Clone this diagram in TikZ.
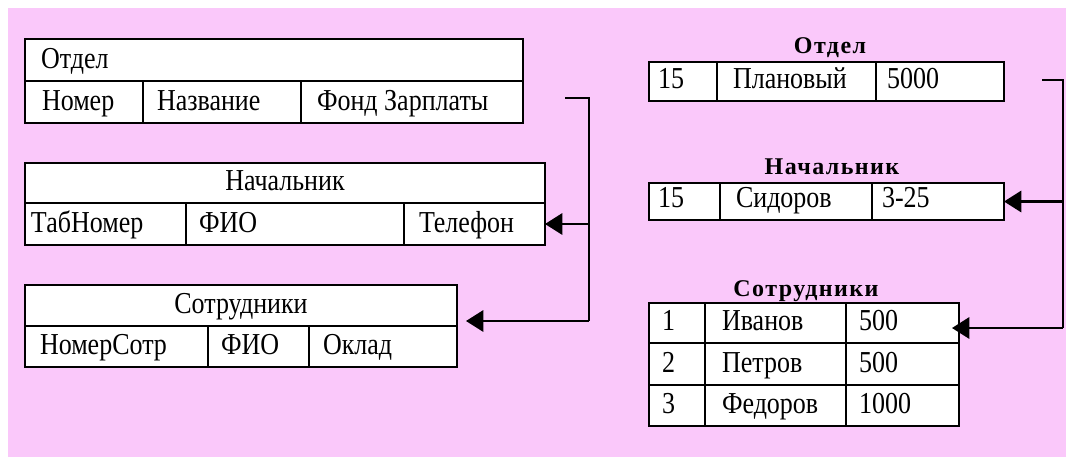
\documentclass[tikz,border=0pt]{standalone}
\usepackage{fontspec}
\setmainfont{Liberation Serif}
\newfontfamily\titlefont{Liberation Serif}[LetterSpace=6]
\usetikzlibrary{arrows.meta}
\definecolor{bgpink}{RGB}{250,200,250}
\newcommand\sq[1]{\scalebox{1}[1.17]{#1}}
\tikzset{
  cellbox/.style={draw=black, fill=white, line width=1.7pt, inner sep=0pt, outer sep=0pt},
  celltext/.style={inner sep=0pt, outer sep=0pt, font=\fontsize{19.5}{20}\selectfont},
  ttl/.style={inner sep=0pt, outer sep=0pt, font=\titlefont\bfseries\fontsize{18}{20}\selectfont},
  conn/.style={draw=black, line width=1.7pt},
  arr/.style={conn, -{Triangle[length=13pt,width=16pt]}},
}
% left-aligned cell: name, x1, y1, x2, y2, text x, text
\newcommand\tcl[7]{%
  \node[cellbox, minimum width={(#4-#2)*0.75pt}, minimum height={(#5-#3)*0.75pt}, anchor=north west] (#1) at (#2,#3) {};
  \node[celltext, anchor=base west] (#1-t) at (#6,#5-12.5) {\sq{#7}};
}
% centered cell: name, x1, y1, x2, y2, text
\newcommand\tcc[6]{%
  \node[cellbox, minimum width={(#4-#2)*0.75pt}, minimum height={(#5-#3)*0.75pt}, anchor=north west] (#1) at (#2,#3) {};
  \node[celltext, anchor=base] (#1-t) at ({(#2+#4)/2},#5-12.5) {\sq{#6}};
}
\begin{document}
\begin{tikzpicture}[x=0.75pt, y=-0.75pt]
\useasboundingbox (0,0) rectangle (1066,457);
\fill[bgpink] (8,8) rectangle (1066,457);

% ---- left: schema ----
\tcl{lo-h}{25}{39}{523}{81}{41}{Отдел}
\tcl{lo-1}{25}{81}{143}{123}{42}{Номер}
\tcl{lo-2}{143}{81}{301}{123}{157}{Название}
\tcl{lo-3}{301}{81}{523}{123}{317}{Фонд Зарплаты}

\tcc{ln-h}{25}{163}{545}{203}{Начальник}
\tcl{ln-1}{25}{203}{186}{245}{31}{ТабНомер}
\tcl{ln-2}{186}{203}{404}{245}{199}{ФИО}
\tcl{ln-3}{404}{203}{545}{245}{419}{Телефон}

\tcc{ls-h}{25}{285}{457}{326}{Сотрудники}
\tcl{ls-1}{25}{326}{208}{367}{40}{НомерСотр}
\tcl{ls-2}{208}{326}{309}{367}{221}{ФИО}
\tcl{ls-3}{309}{326}{457}{367}{323}{Оклад}

% ---- right: data ----
\node[ttl, anchor=base] (ro-t) at (830,53) {Отдел};
\tcl{ro-1}{649}{62}{717}{101}{658}{15}
\tcl{ro-2}{717}{62}{876}{101}{733}{Плановый}
\tcl{ro-3}{876}{62}{1004}{101}{887}{5000}

\node[ttl, anchor=base] (rn-t) at (832,174) {Начальник};
\tcl{rn-1}{649}{183}{720}{220}{658}{15}
\tcl{rn-2}{720}{183}{872}{220}{736}{Сидоров}
\tcl{rn-3}{872}{183}{1004}{220}{882}{3-25}

\node[ttl, anchor=base] (rs-t) at (806,296) {Сотрудники};
\tcl{rs-11}{649}{303}{705}{343}{662}{1}
\tcl{rs-12}{705}{303}{846}{343}{722}{Иванов}
\tcl{rs-13}{846}{303}{959}{343}{859}{500}
\tcl{rs-21}{649}{343}{705}{385}{662}{2}
\tcl{rs-22}{705}{343}{846}{385}{722}{Петров}
\tcl{rs-23}{846}{343}{959}{385}{859}{500}
\tcl{rs-31}{649}{385}{705}{426}{662}{3}
\tcl{rs-32}{705}{385}{846}{426}{722}{Федоров}
\tcl{rs-33}{846}{385}{959}{426}{859}{1000}

% ---- connectors ----
\coordinate (ls0) at (565,98);
\coordinate (lbus) at (589,98);
\coordinate (lend) at (589,321);
\coordinate (ltip) at (466,321);
\draw[conn] (ls0) -- (lbus) -- (lend);
\draw[arr] (lbus |- ln-3.east) -- (ln-3.east);
\draw[arr] (lend) -- (ltip);

\coordinate (rs0) at (1042,80);
\coordinate (rbus) at (1063,80);
\coordinate (rend) at (1063,328);
\coordinate (rtip) at (952,328);
\draw[conn] (rs0) -- (rbus) -- (rend);
\draw[arr] (rbus |- rn-3.east) -- (rn-3.east);
\draw[arr] (rend) -- (rtip);
\end{tikzpicture}
\end{document}
